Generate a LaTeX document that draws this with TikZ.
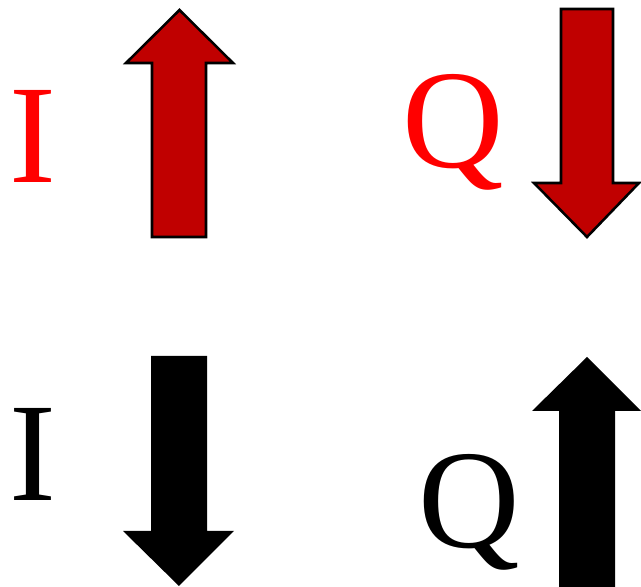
\documentclass[tikz,border=0pt]{standalone}
\usepackage{fontspec}
\setmainfont{Liberation Serif}
\usepackage{tikz}
\definecolor{arrowred}{RGB}{192,0,0}

\begin{document}
\begin{tikzpicture}[x=0.025cm,y=0.025cm]
  \useasboundingbox (0,0) rectangle (641,587);
  \node[red,font=\fontsize{100pt}{100pt}\selectfont,inner sep=0pt,anchor=base] (iup) at (32.5,404) {I};
  \node[red,font=\fontsize{100pt}{100pt}\selectfont,inner sep=0pt,anchor=base] (qdown) at (453.5,419) {Q};
  \node[black,font=\fontsize{100pt}{100pt}\selectfont,inner sep=0pt,anchor=base] (idown) at (33,86) {I};
  \node[black,font=\fontsize{100pt}{100pt}\selectfont,inner sep=0pt,anchor=base] (qup) at (469,39) {Q};
  \draw[fill=arrowred, draw=black, line width=1.8pt, line join=miter] (152,350) -- (206,350) -- (206,524) -- (233,524) -- (179.5,577) -- (126,524) -- (152,524) -- cycle;
  \draw[fill=arrowred, draw=black, line width=1.8pt, line join=miter] (561,578) -- (613,578) -- (613,404) -- (639,404) -- (587,350) -- (534,404) -- (561,404) -- cycle;
  \fill[black] (151,231) -- (207,231) -- (207,56) -- (234,56) -- (179,1) -- (123,56) -- (151,56) -- cycle;
  \fill[black] (559,0) -- (615,0) -- (615,176) -- (641,176) -- (587,230) -- (532,176) -- (559,176) -- cycle;
\end{tikzpicture}
\end{document}
